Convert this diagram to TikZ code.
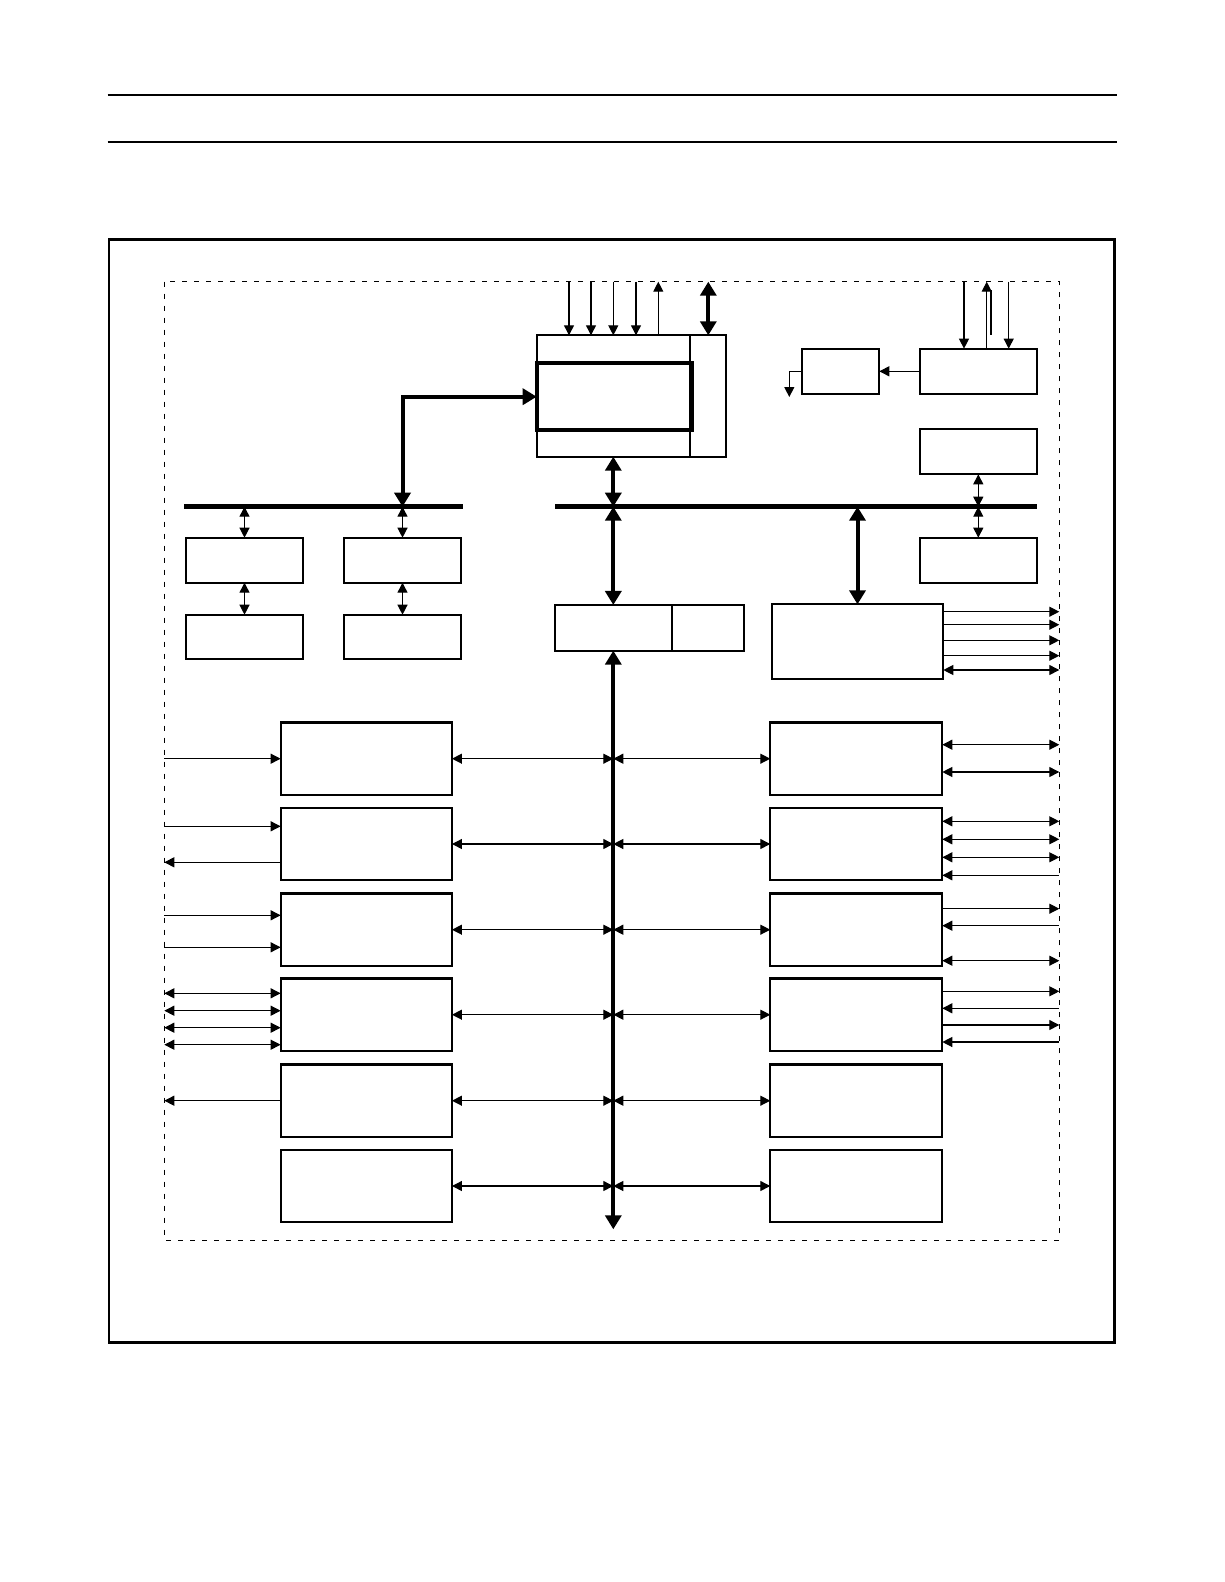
\documentclass[tikz,border=0pt]{standalone}
\usetikzlibrary{arrows.meta, positioning, calc}
\tikzset{
  every picture/.style={x=1pt, y=-1pt},
  blk/.style={draw, line width=2.2pt, inner sep=0pt, outer sep=0pt},
  wire/.style={line width=1.2pt, >={Triangle[length=10pt, width=10pt]}},
  oneway/.style={wire, ->},
  backway/.style={wire, <-},
  twoway/.style={wire, <->},
  busline/.style={line width=4.5pt},
  busarrow/.style={line width=4pt, <->, >={Triangle[length=14pt, width=16pt]}},
  rule/.style={line width=2.2pt},
  frontier/.style={line width=1pt, dash pattern=on 5pt off 7pt},
}
\begin{document}
\begin{tikzpicture}
  \useasboundingbox (0,0) rectangle (1224,1582);
  % page rules and frame
  \draw[rule] (107.7,95) -- (1117.3,95);
  \draw[rule] (107.7,142) -- (1117.3,142);
  \draw[line width=2.6pt] (109,239.3) rectangle (1114.3,1342.7);
  \coordinate (dtl) at (164.3,281.7);
  \coordinate (dbr) at (1059.3,1240);
  \draw[frontier] (dtl) rectangle (dbr);

  % processor block
  \node[blk, minimum width=189, minimum height=121.4] (cpu) at (631.2,396) {};
  \node[blk, line width=4pt, minimum width=155, minimum height=66.7] (core) at (614.2,396.7) {};
  \draw[line width=2pt] (690.3,0 |- cpu.north) -- (690.3,0 |- cpu.south);
  \foreach \x in {569,591,613.3,636}
    \draw[oneway] (\x,0 |- dtl) -- (\x,0 |- cpu.north);
  \draw[oneway] (658.3,0 |- cpu.north) -- (658.3,0 |- dtl);
  \draw[busarrow] (708.3,0 |- dtl) -- (708.3,0 |- cpu.north);

  % clock blocks
  \node[blk, minimum width=77, minimum height=45.3] (osc) at (840.8,371.3) {};
  \node[blk, minimum width=117.3, minimum height=45.3] (clk) at (978.7,371.3) {};
  \draw[oneway] (clk.west) -- (osc.east);
  \coordinate (oscout) at (789.3,397);
  \draw[oneway] (osc.west) -| (oscout);
  \draw[oneway] (964,0 |- dtl) -- (964,0 |- clk.north);
  \draw[oneway] (1008.7,0 |- dtl) -- (1008.7,0 |- clk.north);
  \draw[oneway] (986.7,0 |- clk.north) -- (986.7,0 |- dtl);
  \draw[wire] (991,290) -- (991,335);

  % buses
  \coordinate (lb) at (184,506.7);
  \coordinate (rb) at (1037,506.7);
  \coordinate (vb) at (613.3,1229.3);
  \draw[busline] (lb) -- (462.7,506.7);
  \draw[busline] (555,506.7) -- (rb);

  % left memory blocks
  \node[blk, minimum width=117.6, minimum height=45] (la) at (244.5,560.2) {};
  \node[blk, minimum width=117.6, minimum height=44.6] (lc) at (244.5,637) {};
  \node[blk, minimum width=117.6, minimum height=45] (lb2) at (402.5,560.2) {};
  \node[blk, minimum width=117.6, minimum height=44.6] (ld) at (402.5,637) {};
  \draw[twoway] (la.north |- lb) -- (la.north);
  \draw[twoway] (la.south) -- (lc.north);
  \draw[twoway] (lb2.north |- lb) -- (lb2.north);
  \draw[twoway] (lb2.south) -- (ld.north);
  \draw[busarrow] (core.west) -| (lb2.north |- lb);

  % right upper blocks
  \node[blk, minimum width=116.7, minimum height=45] (rt) at (978.3,451.8) {};
  \node[blk, minimum width=116.7, minimum height=45] (rbx) at (978.3,560.2) {};
  \draw[twoway] (rt.south) -- (rt.south |- rb);
  \draw[twoway] (rbx.north |- rb) -- (rbx.north);

  % bridge and pwm
  \node[blk, minimum width=189.3, minimum height=45.7] (bridge) at (649.3,627.8) {};
  \draw[line width=2pt] (672,0 |- bridge.north) -- (672,0 |- bridge.south);
  \node[blk, minimum width=171.6, minimum height=74.7] (pwm) at (857.5,641.7) {};
  \draw[busarrow] (cpu.south -| vb) -- (vb |- rb);
  \draw[busarrow] (vb |- rb) -- (bridge.north -| vb);
  \draw[busarrow] (bridge.south -| vb) -- (vb);
  \draw[busarrow] (pwm.north |- rb) -- (pwm.north);
  \foreach \y/\s in {611.7/oneway,624.7/oneway,640.3/oneway,655.7/oneway,670/twoway}
    \draw[\s] (pwm.east |- 0,\y) -- (dbr |- 0,\y);

  % peripheral columns
  \foreach \i/\y in {1/758.7,2/844,3/929.7,4/1014.7,5/1100.7,6/1186} {
    \node[blk, minimum width=171.3, minimum height=72.3] (L\i) at (366.3,\y) {};
    \node[blk, minimum width=172, minimum height=72.3] (R\i) at (856.3,\y) {};
    \draw[twoway] (L\i.east) -- (L\i.east -| vb);
    \draw[twoway] (R\i.west -| vb) -- (R\i.west);
  }

  % left pins
  \foreach \n/\y/\s in {1/758.7/oneway,2/826.3/oneway,2/862.3/backway,3/915.3/oneway,3/947.3/oneway,
      4/993.3/twoway,4/1010.7/twoway,4/1027.7/twoway,4/1044.7/twoway,5/1100.7/backway}
    \draw[\s] (dtl |- 0,\y) -- (L\n.west |- 0,\y);

  % right pins
  \foreach \n/\y/\s in {1/744.7/twoway,1/772/twoway,2/821.3/twoway,2/839.3/twoway,2/857.3/twoway,
      2/875.3/backway,3/908.7/oneway,3/925.7/backway,3/960.7/twoway,
      4/991.3/oneway,4/1008.3/backway,4/1025/oneway,4/1042/backway}
    \draw[\s] (R\n.east |- 0,\y) -- (dbr |- 0,\y);
\end{tikzpicture}
\end{document}
